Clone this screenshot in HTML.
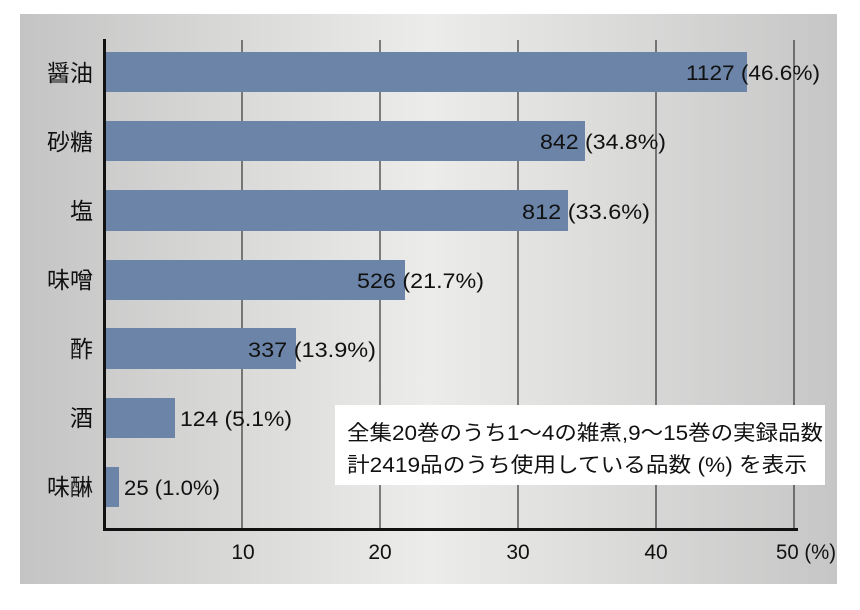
<!DOCTYPE html>
<html><head><meta charset="utf-8"><style>
body{margin:0;width:860px;height:605px;background:#fff;overflow:hidden;font-family:"Liberation Sans","Noto Sans CJK JP",sans-serif;}
</style></head><body>
<svg width="860" height="605" xmlns="http://www.w3.org/2000/svg" font-family="Liberation Sans, Noto Sans CJK JP, sans-serif">
<defs><linearGradient id="g" x1="0" x2="1" y1="0" y2="0">
<stop offset="0" stop-color="#c4c4c4"/><stop offset="0.5" stop-color="#ececea"/><stop offset="1" stop-color="#c6c6c6"/></linearGradient></defs>
<rect x="20" y="14" width="817" height="570" fill="url(#g)"/>
<g stroke="#111" stroke-width="1">
<line x1="242" y1="40" x2="242" y2="529"/><line x1="380" y1="40" x2="380" y2="529"/><line x1="518" y1="40" x2="518" y2="529"/><line x1="656" y1="40" x2="656" y2="529"/><line x1="794" y1="40" x2="794" y2="529"/>
</g>
<g fill="#6b84a8">
<rect x="105" y="52" width="642" height="40"/>
<rect x="105" y="121" width="480" height="40"/>
<rect x="105" y="190" width="463" height="41"/>
<rect x="105" y="260" width="300" height="40"/>
<rect x="105" y="328" width="191" height="41"/>
<rect x="105" y="398" width="70" height="40"/>
<rect x="105" y="467" width="14" height="40"/>
</g>
<line x1="104.5" y1="39" x2="104.5" y2="531" stroke="#111" stroke-width="3"/>
<line x1="103" y1="529.5" x2="798" y2="529.5" stroke="#111" stroke-width="3"/>
<g font-size="23" fill="#111" text-anchor="end">
<text x="93" y="81">醤油</text><text x="93" y="150">砂糖</text><text x="93" y="219">塩</text><text x="93" y="288">味噌</text><text x="93" y="357">酢</text><text x="93" y="426">酒</text><text x="93" y="495">味醂</text>
</g>
<g font-size="21" fill="#111" lengthAdjust="spacingAndGlyphs">
<text x="686" y="80" textLength="134" lengthAdjust="spacingAndGlyphs">1127 (46.6%)</text>
<text x="540" y="149" textLength="126" lengthAdjust="spacingAndGlyphs">842 (34.8%)</text>
<text x="522" y="219" textLength="128" lengthAdjust="spacingAndGlyphs">812 (33.6%)</text>
<text x="357" y="288" textLength="127" lengthAdjust="spacingAndGlyphs">526 (21.7%)</text>
<text x="248" y="357" textLength="128" lengthAdjust="spacingAndGlyphs">337 (13.9%)</text>
<text x="180" y="426" textLength="112" lengthAdjust="spacingAndGlyphs">124 (5.1%)</text>
<text x="124" y="495" textLength="96" lengthAdjust="spacingAndGlyphs">25 (1.0%)</text>
</g>
<g font-size="21" fill="#111" text-anchor="middle">
<text x="243" y="559">10</text><text x="380" y="559">20</text><text x="518" y="559">30</text><text x="656" y="559">40</text>
</g>
<text x="776" y="559" font-size="21" fill="#111" textLength="60" lengthAdjust="spacingAndGlyphs">50 (%)</text>
<rect x="335" y="405" width="490" height="80" fill="#fff"/>
<g font-size="21" fill="#111">
<text x="347" y="440" textLength="476" lengthAdjust="spacingAndGlyphs">全集20巻のうち1～4の雑煮,9～15巻の実録品数</text>
<text x="347" y="472" textLength="460" lengthAdjust="spacingAndGlyphs">計2419品のうち使用している品数 (%) を表示</text>
</g>
</svg>
</body></html>
